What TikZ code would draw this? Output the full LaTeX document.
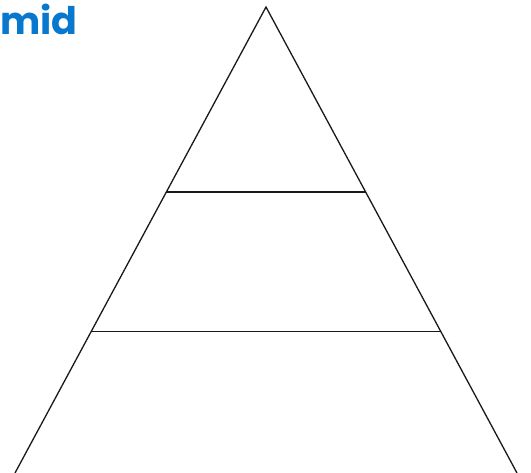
\documentclass[tikz,border=0pt]{standalone}
\usepackage{fontspec}
\newfontfamily\titlefont{Poppins}[UprightFont=* Bold]
\definecolor{titleblue}{RGB}{8,120,206}
\begin{document}
\begin{tikzpicture}[x=1pt,y=-1pt,
  edge/.style={draw=black!90,line width=1.3pt},
  title/.style={text=titleblue,font=\titlefont\fontsize{38}{38}\selectfont,inner sep=0pt,anchor=base west}]
\useasboundingbox (0,0) rectangle (531,473);
\coordinate (apex) at (266,7);
\coordinate (bl) at (15,473);
\coordinate (br) at (517,473);
\coordinate (l1) at (166.4,192);
\coordinate (r1) at (366,192);
\coordinate (l2) at (91.5,331.5);
\coordinate (r2) at (441,331.5);
\draw[edge] (bl) -- (apex) -- (br);
\draw[edge] (l1) -- (r1);
\draw[edge] (l2) -- (r2);
\node[title] (t) at (0,35) {mid};
\end{tikzpicture}
\end{document}
